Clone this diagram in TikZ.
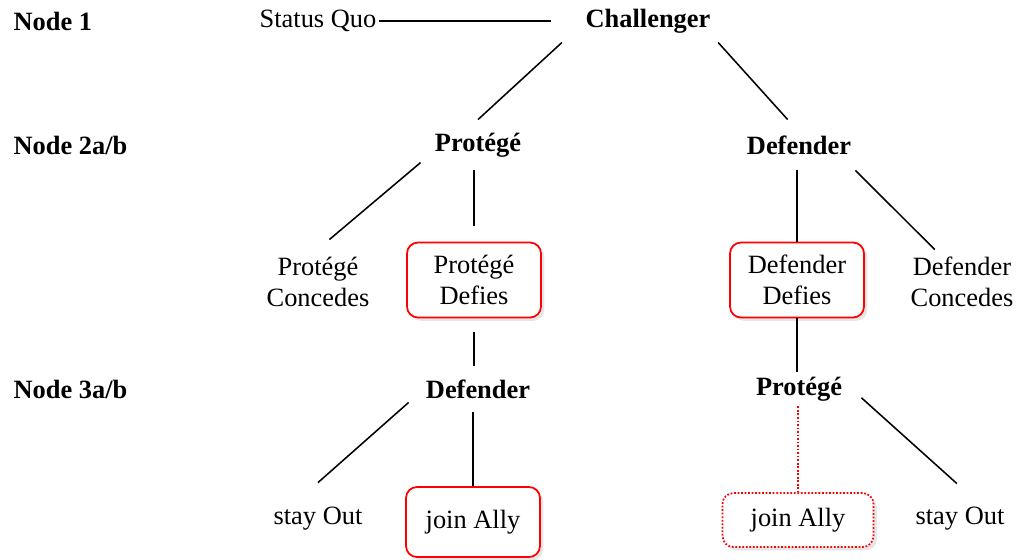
\documentclass[tikz,border=0pt]{standalone}
\usepackage{fontspec}
\setmainfont{Liberation Serif}
\usepackage{tikz}
\usetikzlibrary{shadows}
\newlength{\pxl}
\setlength{\pxl}{0.4545pt}

\begin{document}
\begin{tikzpicture}[
  x=0.4545pt, y=-0.4545pt,
  every node/.style={font=\fontsize{12}{13.8}\selectfont, inner sep=1pt, align=center},
  head/.style={font=\fontsize{12}{13.8}\selectfont\bfseries},
  lbl/.style={font=\fontsize{12}{13.8}\selectfont\bfseries, anchor=west},
  box/.style={draw=red, line width=0.8pt, rounded corners=5pt, fill=white,
              minimum width=134*\pxl,
              drop shadow={opacity=0.2, shadow xshift=1.5pt, shadow yshift=-1.5pt}},
  dbox/.style={box, dash pattern=on 0.8pt off 0.8pt},
  ln/.style={line width=0.7pt}
]
  \useasboundingbox (0,0) rectangle (1016,559);

  % row labels
  \node[lbl] (n1) at (11,21) {Node 1};
  \node[lbl] (n2) at (11,145) {Node 2a/b};
  \node[lbl] (n3) at (11,389) {Node 3a/b};

  % node 1
  \node (sq) at (318,21) {Status Quo};
  \node[head, minimum width=194*\pxl, minimum height=42*\pxl] (chal) at (648,21) {Challenger};

  % node 2a/b
  \node[head, minimum width=114*\pxl, minimum height=50*\pxl] (prot2) at (478,145) {Protégé};
  \node[head, minimum width=112*\pxl, minimum height=50*\pxl] (def2) at (799,145) {Defender};
  \node[minimum height=84*\pxl] (pcon) at (318,282) {Protégé\\Concedes};
  \node[box, minimum height=75*\pxl] (pdef) at (474,280) {Protégé\\Defies};
  \node[box, minimum height=75*\pxl] (ddef) at (797,280) {Defender\\Defies};
  \node[minimum height=64*\pxl] (dcon) at (962,282) {Defender\\Concedes};

  % node 3a/b
  \node[head, minimum width=138*\pxl, minimum height=46*\pxl] (def3) at (478,389) {Defender};
  \node[head, minimum width=124*\pxl, minimum height=34*\pxl] (prot3) at (799,389) {Protégé};
  \node[minimum height=72*\pxl] (sout1) at (318,519) {stay Out};
  \node[box, minimum height=70*\pxl] (jally1) at (473,522) {join Ally};
  \node[dbox, minimum width=151*\pxl, minimum height=54*\pxl] (jally2) at (798,520) {join Ally};
  \node[minimum height=70*\pxl] (sout2) at (960,519) {stay Out};

  \draw[ln] (sq.east) -- (chal.west);
  \draw[ln] (chal.194) -- (prot2.north);
  \draw[ln] (chal.343) -- (def2.114);
  \draw[ln] (prot2.197) -- (pcon.75);
  \draw[ln, shorten >=7pt] (pdef.north |- prot2.south) -- (pdef.north);
  \draw[ln] (ddef.north |- def2.south) -- (ddef.north);
  \draw[ln] (def2.south east) -- (dcon.130);
  \draw[ln, shorten <=6pt] (pdef.south) -- (pdef.south |- def3.north);
  \draw[ln] (ddef.south) -- (ddef.south |- prot3.north);
  \draw[ln] (def3.191) -- (sout1.north);
  \draw[ln] (jally1.north |- def3.south) -- (jally1.north);
  \draw[ln] (prot3.352) -- (sout2.95);
  \draw[red, line width=0.8pt, dash pattern=on 0.8pt off 0.8pt] (jally2.north |- prot3.south) -- (jally2.north);
\end{tikzpicture}
\end{document}
